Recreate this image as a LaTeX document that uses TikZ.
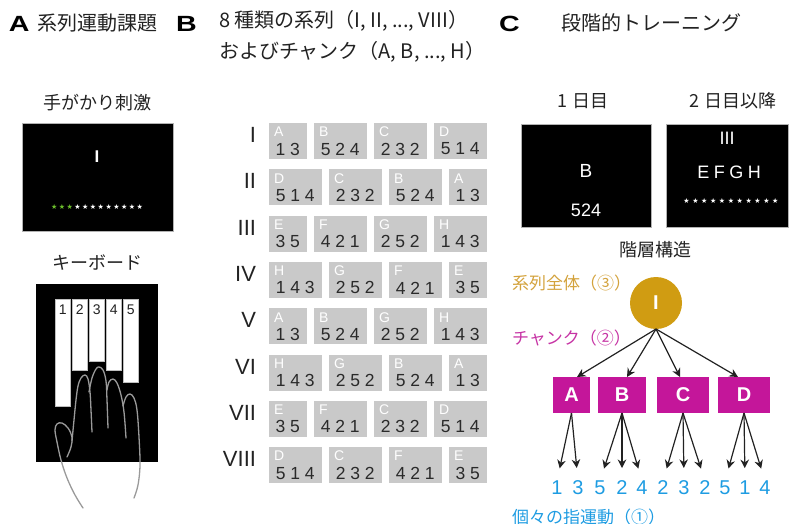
\documentclass[tikz,border=0pt]{standalone}
\usepackage{fontspec}
\setmainfont{Liberation Sans}
\newfontfamily\jp{Noto Sans CJK JP}
\newfontfamily\sym{DejaVu Sans}
\usetikzlibrary{arrows.meta,calc}
\newcommand\fsz[1]{\fontsize{#1}{#1}\selectfont}
\newcommand\widebold[1]{\scalebox{1.3}[1]{\bfseries #1}}
\definecolor{ink}{HTML}{222222}
\definecolor{chunkgray}{HTML}{C9C9C9}
\definecolor{digitgray}{HTML}{2A2A2A}
\definecolor{gold}{HTML}{D09C12}
\definecolor{goldtext}{HTML}{D3A23C}
\definecolor{chunkpink}{HTML}{C4169A}
\definecolor{chunkpinktext}{HTML}{C633A4}
\definecolor{fingerblue}{HTML}{1E9CE2}
\definecolor{stargreen}{HTML}{6CBF2C}
\definecolor{handgray}{HTML}{9A9A9A}
% digit groups and box widths of the eight chunks
\def\digA{1 3}\def\digB{5 2 4}\def\digC{2 3 2}\def\digD{5 1 4}
\def\digE{3 5}\def\digF{4 2 1}\def\digG{2 5 2}\def\digH{1 4 3}
\def\wA{37.5}\def\wB{52.5}\def\wC{52.5}\def\wD{52.5}
\def\wE{37.5}\def\wF{52.5}\def\wG{52.5}\def\wH{52.5}
\begin{document}
\begin{tikzpicture}[x=1pt,y=-1pt,
  every node/.style={inner sep=0pt, outer sep=0pt},
  panel/.style={anchor=west, text=black, font=\fsz{22}},
  title/.style={anchor=west, text=ink, font=\jp\fsz{20}},
  caption/.style={text=ink, font=\jp\fsz{18}},
  screen/.style={fill=black, draw=gray!60, line width=0.6pt, anchor=north west},
  screentext/.style={text=white, font=\fsz{18}},
  keyboard/.style={fill=black, anchor=north west},
  keybox/.style={fill=white, draw=gray!50, line width=0.3pt, anchor=north west, minimum width=15.5},
  keynum/.style={text=ink, font=\fsz{14}},
  hand/.style={draw=handgray, line width=1.3pt, line cap=round},
  numeral/.style={text=ink, font=\fsz{22}, anchor=east},
  chunk/.style={fill=chunkgray, minimum height=36, anchor=north west},
  chunkletter/.style={text=white, font=\fsz{14}, anchor=west},
  chunkdigits/.style={text=digitgray, font=\fsz{17.5}},
  rootnode/.style={circle, fill=gold, minimum size=52, text=white, font=\bfseries\fsz{20}},
  chunknode/.style={fill=chunkpink, minimum height=36, text=white, font=\bfseries\fsz{20}},
  finger/.style={text=fingerblue, font=\fsz{20}},
  level/.style={anchor=west, font=\jp\fsz{17}},
  treearrow/.style={draw=ink, line width=1.2pt, -{Stealth[length=8.5pt,width=8.5pt]}},
]
\useasboundingbox (0,0) rectangle (789,524);

% ---------------- panel A ----------------
\node[panel] (labA) at (9,24) {\widebold{A}};
\node[title] (titA) at (37,23) {系列運動課題};
\node[caption] (capcue) at (97,103) {手がかり刺激};
\node[screen, minimum width=151, minimum height=108] (cue) at (22,123) {};
\node[text=white, font=\bfseries\fsz{17}] (cueI) at (97,157) {I};
\node[font=\sym\fsz{7}, text=white] (cuestars) at (97,207)
  {{\color{stargreen}★\kern1.5pt★\kern1.5pt★}\kern1.5pt★\kern1.5pt★\kern1.5pt★\kern1.5pt★\kern1.5pt★\kern1.5pt★\kern1.5pt★\kern1.5pt★\kern1.5pt★};

\node[caption] (capkey) at (97,263) {キーボード};
\node[keyboard, minimum width=122, minimum height=178] (kbd) at (36,284) {};
\foreach \i/\x/\b in {1/55/406, 2/72/370, 3/89/361, 4/106/370, 5/123/382}{
  \node[keybox, minimum height=\b-299] (key\i) at (\x,299) {};
  \node[keynum] (kn\i) at ($(key\i.north)+(0,11)$) {\i};
}
% hand outline: arm and thumb, then the four fingers
\draw[hand] plot[smooth, tension=0.6] coordinates
  {(83,508) (75,495) (67,478) (61,460) (57,442) (55,430) (57,424) (62,423) (68,428) (72,437) (71,447) (67,457)};
\draw[hand] plot[smooth, tension=0.6] coordinates
  {(72,441) (74,420) (76,400) (78,386) (81,378) (85,375) (88,379) (90,392) (91,410) (92,432)};
\draw[hand] plot[smooth, tension=0.6] coordinates
  {(89,392) (92,378) (96,369) (99,367) (103,370) (106,381) (107,400) (108,428)};
\draw[hand] plot[smooth, tension=0.6] coordinates
  {(107,390) (109,382) (113,379) (117,383) (121,395) (124,412) (126,438)};
\draw[hand] plot[smooth, tension=0.6] coordinates
  {(123,406) (126,397) (130,394) (134,398) (137,410) (139,437) (140,465) (138,485) (134,498)};

% ---------------- panel B ----------------
\node[panel] (labB) at (176,24) {\widebold{B}};
\node[title] (titB1) at (219,21) {8 種類の系列（I, II, ..., VIII）};
\node[title] (titB2) at (219,52) {およびチャンク（A, B, ..., H）};
\foreach \r/\nm/\seq in {1/I/{A,B,C,D},2/II/{D,C,B,A},3/III/{E,F,G,H},4/IV/{H,G,F,E},
                         5/V/{A,B,G,H},6/VI/{H,G,B,A},7/VII/{E,F,C,D},8/VIII/{D,C,F,E}}{
  \pgfmathsetmacro\ytop{123+46.3*(\r-1)}
  \node[numeral] (row\r) at (256,\ytop+12) {\nm};
  \xdef\curx{269}
  \foreach \c [count=\k] in \seq {
    \edef\w{\csname w\c\endcsname}
    \node[chunk, minimum width=\w] (ch\r-\k) at (\curx,\ytop) {};
    \node[chunkletter] (lt\r-\k) at ($(ch\r-\k.north west)+(5,9)$) {\c};
    \node[chunkdigits] (dg\r-\k) at ($(ch\r-\k.center)+(0,8)$) {\csname dig\c\endcsname};
    \pgfmathsetmacro\nx{\curx+\w+7.5}
    \xdef\curx{\nx}
  }
}

% ---------------- panel C ----------------
\node[panel] (labC) at (499,24) {\widebold{C}};
\node[title] (titC) at (561,23) {段階的トレーニング};
\node[caption] (capday1) at (583,101) {1 日目};
\node[caption] (capday2) at (733,101) {2 日目以降};
\node[screen, minimum width=130, minimum height=103] (day1) at (521,124) {};
\node[screentext, font=\fsz{19}] (day1B) at (586,171) {B};
\node[screentext] (day1d) at (586,210) {524};
\node[screen, minimum width=122, minimum height=103] (day2) at (666,124) {};
\node[screentext] (day2r) at (727,138) {III};
\node[screentext] (day2c) at (729,172) {E\kern4.5pt F\kern4.5pt G\kern4.5pt H};
\node[font=\sym\fsz{7}, text=white] (day2s) at (731,201)
  {★\kern2.6pt★\kern2.6pt★\kern2.6pt★\kern2.6pt★\kern2.6pt★\kern2.6pt★\kern2.6pt★\kern2.6pt★\kern2.6pt★\kern2.6pt★};

\node[caption] (caphier) at (655,250) {階層構造};
\node[level, text=goldtext] (lvl3) at (512,283) {系列全体（③）};
\node[level, text=chunkpinktext] (lvl2) at (512,338) {チャンク（②）};
\node[level, text=fingerblue] (lvl1) at (512,517) {個々の指運動（①）};

\node[rootnode] (root) at (656,303) {I};
\node[chunknode, minimum width=37] (cA) at (571.5,395) {A};
\node[chunknode, minimum width=48] (cB) at (622,395) {B};
\node[chunknode, minimum width=52] (cC) at (683,395) {C};
\node[chunknode, minimum width=52] (cD) at (744,395) {D};

\draw[treearrow] (root.south) -- ([xshift=5.5pt]cA.north);
\draw[treearrow] (root.south) -- ([xshift=5pt]cB.north);
\draw[treearrow] (root.south) -- ([xshift=-3pt]cC.north);
\draw[treearrow] (root.south) -- ([xshift=-6pt]cD.north);

\foreach \n/\x/\d in {1/557/1, 2/578/3, 3/600/5, 4/622/2, 5/642/4, 6/663/2,
                      7/684/3, 8/705/2, 9/725/5, 10/745/1, 11/765/4}{
  \node[finger] (f\n) at (\x,488) {\d};
}
\foreach \p/\list in {cA/{1,2}, cB/{3,4,5}, cC/{6,7,8}, cD/{9,10,11}}{
  \foreach \n in \list {
    \draw[treearrow, shorten >=13pt] (\p.south) -- (f\n.north);
  }
}
\end{tikzpicture}
\end{document}
